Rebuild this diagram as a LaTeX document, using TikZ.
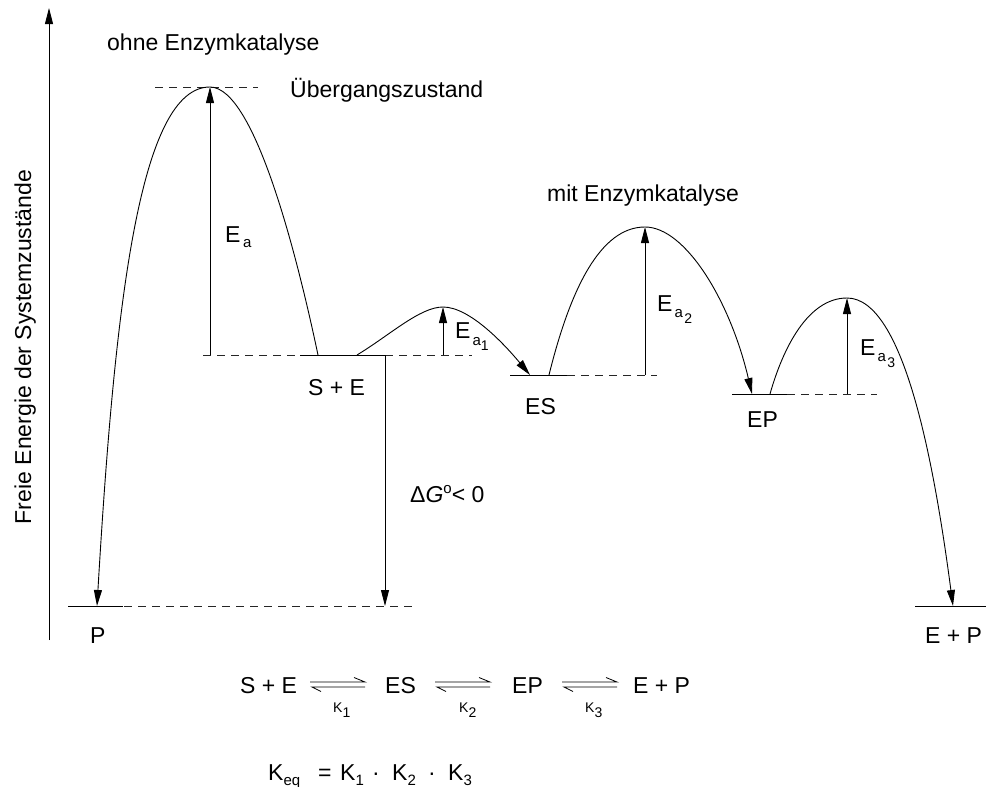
\documentclass[tikz,border=0pt]{standalone}
\usepackage{fontspec}
\setmainfont{Liberation Sans}
\usetikzlibrary{arrows.meta}
\newcommand{\bigf}{\fontsize{23}{27}\selectfont}
\newcommand{\subf}{\fontsize{15}{15}\selectfont}
\newcommand{\ssubf}{\fontsize{14}{14}\selectfont}
\newcommand{\eqarr}[2]{%
  \draw[eqline] (#1,#2) -- ++(55,0) -- ++(-11,-4.5);
  \draw[eqline] (#1+55,#2+5) -- ++(-53,0) -- ++(9,4.5);}
\begin{document}
\begin{tikzpicture}[x=1pt,y=-1pt,
  lbl/.style={inner sep=0pt, anchor=base west, font=\bigf},
  klbl/.style={inner sep=0pt, anchor=base west, font=\ssubf},
  lvl/.style={line width=0.9pt},
  eqline/.style={line width=0.8pt},
  dsh/.style={line width=0.8pt, dash pattern=on 8pt off 6pt, black!85},
  crv/.style={line width=0.9pt},
  tip/.style={-{Triangle[length=16pt,width=8pt]}},
]
\useasboundingbox (0,0) rectangle (986,787);
% key points
\coordinate (ax0) at (49,640);
\coordinate (ax1) at (49,8);
\coordinate (Plev) at (97,606);
\coordinate (T0) at (210,87);
\coordinate (SEr) at (318,355);
\coordinate (SEs) at (357,355);
\coordinate (dG) at (385,355);
\coordinate (T1) at (443,307);
\coordinate (ESa) at (530,375);
\coordinate (ESs) at (549,375);
\coordinate (T2) at (645,227);
\coordinate (EPa) at (752,394);
\coordinate (EPs) at (770,394);
\coordinate (T3) at (847,298);
\coordinate (EPP) at (953,606);
% axis
\draw[lvl,tip] (ax0) -- (ax1);
\node[inner sep=0pt, font=\bigf, rotate=90, anchor=base] (ylab) at (31,347) {Freie Energie der Systemzustände};
% dashed levels
\draw[dsh] (155,87) -- (258,87);
\draw[dsh] (203,355) -- (472,355);
\draw[dsh] (68,606) -- (415,606);
\draw[dsh] (567,375) -- (657,375);
\draw[dsh] (787,394) -- (877,394);
% solid levels
\draw[lvl] (300,355) -- (dG);
\draw[lvl] (68,606) -- (123,606);
\draw[lvl] (510,375) -- (567,375);
\draw[lvl] (732,394) -- (787,394);
\draw[lvl] (915,606) -- (986,606);
% curves
\draw[crv,tip] (SEr) .. controls (298,260) and (255,87) .. (T0) .. controls (140,87) and (115,300) .. (Plev);
\draw[crv,tip] (SEs) .. controls (390,335) and (420,307) .. (T1) .. controls (470,307) and (505,345) .. (ESa);
\draw[crv,tip] (ESs) .. controls (570,290) and (600,227) .. (T2) .. controls (685,227) and (730,300) .. (EPa);
\draw[crv,tip] (EPs) .. controls (783,348) and (808,298) .. (T3) .. controls (905,298) and (935,470) .. (EPP);
% activation energy arrows
\draw[lvl,tip] (T0 |- SEr) -- (T0);
\draw[lvl,tip] (T1 |- SEr) -- (T1);
\draw[lvl,tip] (T2 |- ESa) -- (T2);
\draw[lvl,tip] (T3 |- EPa) -- (T3);
\draw[lvl,tip] (dG) -- (dG |- Plev);
% labels
\node[lbl] (ohne) at (107,50) {ohne Enzymkatalyse};
\node[lbl] (ueb) at (290,97) {Übergangszustand};
\node[lbl] (mit) at (547,201) {mit Enzymkatalyse};
\node[lbl] (Ea) at (225,242) {E\hspace{2.5pt}\raisebox{-5pt}{\subf a}};
\node[lbl] (Ea1) at (455,338) {E\hspace{2pt}\raisebox{-7pt}{\subf a\raisebox{-5pt}{\ssubf 1}}};
\node[lbl] (Ea2) at (657,311) {E\hspace{2pt}\raisebox{-6pt}{\subf a\hspace{1.5pt}\raisebox{-6pt}{\ssubf 2}}};
\node[lbl] (Ea3) at (860,355) {E\hspace{2pt}\raisebox{-6pt}{\subf a\hspace{1.5pt}\raisebox{-6pt}{\ssubf 3}}};
\node[lbl] (lSE) at (308,395) {S + E};
\node[lbl] (lES) at (525,414) {ES};
\node[lbl] (lEP) at (747,427) {EP};
\node[lbl] (lP) at (90,643) {P};
\node[lbl] (lEP2) at (925,643) {E + P};
\node[lbl] (ldG) at (410,502) {Δ\textit{G}\raisebox{9pt}{\subf o}< 0};
% reaction scheme
\node[lbl] (r1) at (240,693) {S + E};
\node[lbl] (r2) at (385,693) {ES};
\node[lbl] (r3) at (512,693) {EP};
\node[lbl] (r4) at (633,693) {E + P};
\eqarr{310}{682}
\eqarr{435}{682}
\eqarr{562}{682}
\node[klbl] (k1) at (333,712) {K\raisebox{-5pt}{1}};
\node[klbl] (k2) at (459,712) {K\raisebox{-5pt}{2}};
\node[klbl] (k3) at (585,712) {K\raisebox{-5pt}{3}};
% equilibrium constant
\node[lbl] (keq) at (268,780) {K\raisebox{-5pt}{\subf eq}};
\node[lbl] (keqs) at (318,780) {=};
\node[lbl] (kk1) at (340,780) {K\raisebox{-5pt}{\subf 1}};
\node[lbl] (dot1) at (372,780) {·};
\node[lbl] (kk2) at (392,780) {K\raisebox{-5pt}{\subf 2}};
\node[lbl] (dot2) at (428,780) {·};
\node[lbl] (kk3) at (448,780) {K\raisebox{-5pt}{\subf 3}};
\end{tikzpicture}
\end{document}
